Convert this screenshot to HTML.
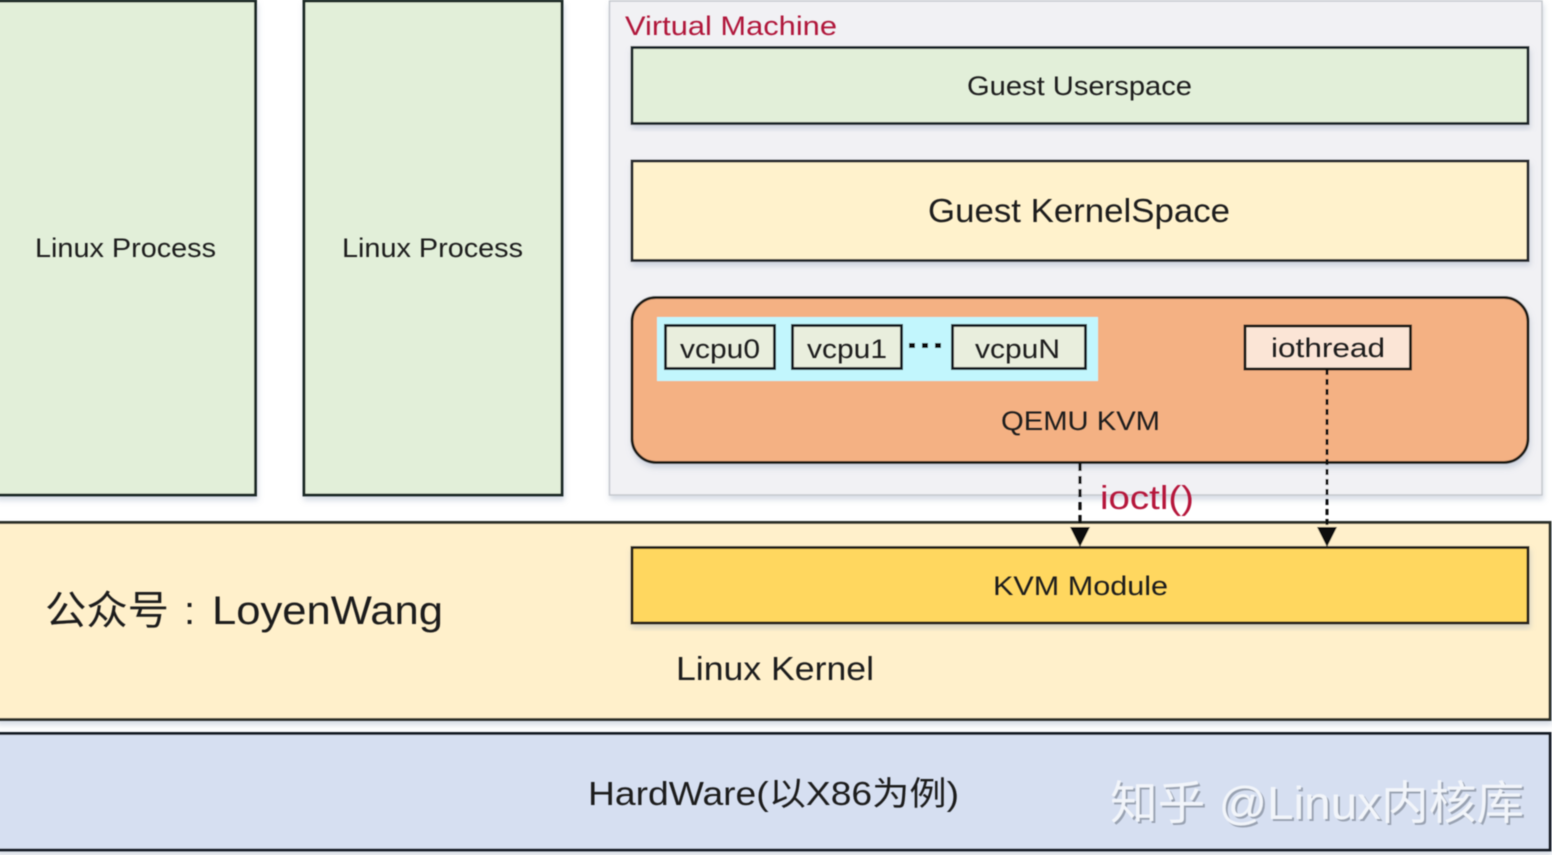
<!DOCTYPE html>
<html><head><meta charset="utf-8"><style>
html,body{margin:0;padding:0;background:#fff;width:1552px;height:855px;overflow:hidden}
svg{display:block}
text{font-family:"Liberation Sans","Noto Sans CJK SC",sans-serif;fill:#1c1c1c}
</style></head><body>
<svg width="1552" height="855" viewBox="0 0 1552 855" xmlns="http://www.w3.org/2000/svg">
<defs>
<filter id="s" x="-5%" y="-5%" width="110%" height="115%"><feDropShadow dx="1" dy="4" stdDeviation="3" flood-color="#8a9bb5" flood-opacity=".35"/></filter>
<filter id="b" x="-2%" y="-2%" width="104%" height="104%"><feGaussianBlur stdDeviation=".5"/></filter>
</defs>
<rect width="1552" height="855" fill="#fff"/>
<g filter="url(#b)">
<rect x="-3" y="1" width="258.500" height="494" fill="#e2efd9" stroke="#1f2b26" stroke-width="3" filter="url(#s)"/>
<rect x="304" y="1" width="258" height="494" fill="#e2efd9" stroke="#1f2b26" stroke-width="3" filter="url(#s)"/>
<rect x="609.500" y="1" width="932.500" height="494" fill="#f1f1f4" stroke="#c4c8ce" stroke-width="1.500" filter="url(#s)"/>
<rect x="632" y="47.500" width="896" height="76" fill="#e2efd9" stroke="#1c262b" stroke-width="3" filter="url(#s)"/>
<rect x="632" y="161" width="896" height="99.500" fill="#fff2cc" stroke="#272c2d" stroke-width="3" filter="url(#s)"/>
<rect x="632" y="297.500" width="896" height="165" rx="24" fill="#f4b183" stroke="#1f1c19" stroke-width="3" filter="url(#s)"/>
<rect x="657" y="317" width="441" height="64" fill="#c2f6fd"/>
<rect x="665.500" y="325.500" width="109" height="43" fill="#e9eedd" stroke="#141e20" stroke-width="3"/>
<rect x="792.500" y="325.500" width="109" height="43" fill="#e9eedd" stroke="#141e20" stroke-width="3"/>
<rect x="952.500" y="325.500" width="133" height="43" fill="#e9eedd" stroke="#141e20" stroke-width="3"/>
<rect x="1245" y="326" width="165.500" height="43" fill="#fbe5d6" stroke="#1f1c19" stroke-width="3"/>
<rect x="-3" y="522.500" width="1553" height="197" fill="#fff0cb" stroke="#2e302b" stroke-width="3" filter="url(#s)"/>
<rect x="632" y="547.500" width="896" height="75.500" fill="#ffd75f" stroke="#26241e" stroke-width="3" filter="url(#s)"/>
<rect x="-3" y="733.500" width="1553" height="116.500" fill="#d6dff1" stroke="#141e28" stroke-width="3" filter="url(#s)"/>
<rect x="909" y="343" width="6" height="5" fill="#111"/><rect x="922" y="343" width="6" height="5" fill="#111"/><rect x="935" y="343" width="6" height="5" fill="#111"/>
<line x1="1080" y1="463" x2="1080" y2="531" stroke="#111" stroke-width="3.200" stroke-dasharray="8 5"/>
<polygon points="1070,527 1090,527 1080,547" fill="#111"/>
<line x1="1327" y1="369" x2="1327" y2="531" stroke="#111" stroke-width="3" stroke-dasharray="6 4"/>
<polygon points="1317,527 1337,527 1327,547" fill="#111"/>
</g>
<g filter="url(#b)">
<text x="35" y="257" font-size="27" textLength="181" lengthAdjust="spacingAndGlyphs">Linux Process</text>
<text x="342" y="257" font-size="27" textLength="181" lengthAdjust="spacingAndGlyphs">Linux Process</text>
<text x="625" y="35" font-size="27" textLength="212" lengthAdjust="spacingAndGlyphs" style="fill:#b0183a">Virtual Machine</text>
<text x="967" y="95" font-size="27" textLength="225" lengthAdjust="spacingAndGlyphs">Guest Userspace</text>
<text x="928" y="222" font-size="33" textLength="302" lengthAdjust="spacingAndGlyphs">Guest KernelSpace</text>
<text x="680" y="358" font-size="27" textLength="80" lengthAdjust="spacingAndGlyphs">vcpu0</text>
<text x="807" y="358" font-size="27" textLength="80" lengthAdjust="spacingAndGlyphs">vcpu1</text>
<text x="975" y="358" font-size="27" textLength="85" lengthAdjust="spacingAndGlyphs">vcpuN</text>
<text x="1271" y="357" font-size="27" textLength="114" lengthAdjust="spacingAndGlyphs">iothread</text>
<text x="1001" y="430" font-size="27" textLength="159" lengthAdjust="spacingAndGlyphs">QEMU KVM</text>
<text x="1100" y="509" font-size="33" textLength="94" lengthAdjust="spacingAndGlyphs" style="fill:#b5123a">ioctl()</text>
<text x="993" y="595" font-size="27" textLength="175" lengthAdjust="spacingAndGlyphs">KVM Module</text>
<text x="45" y="624" font-size="40" textLength="124" lengthAdjust="spacingAndGlyphs">公众号</text>
<text x="184" y="624" font-size="40">:</text>
<text x="212" y="624" font-size="40" textLength="231" lengthAdjust="spacingAndGlyphs">LoyenWang</text>
<text x="676" y="680" font-size="33" textLength="198" lengthAdjust="spacingAndGlyphs">Linux Kernel</text>
<text x="588" y="805" font-size="33" textLength="371" lengthAdjust="spacingAndGlyphs">HardWare(以X86为例)</text>
<text x="1112" y="821" font-size="46" textLength="414" lengthAdjust="spacingAndGlyphs" style="fill:#9aa3b2">知乎 @Linux内核库</text>
<text x="1110" y="819" font-size="46" textLength="414" lengthAdjust="spacingAndGlyphs" style="fill:#f2f5fa">知乎 @Linux内核库</text>
</g>
</svg>
</body></html>
